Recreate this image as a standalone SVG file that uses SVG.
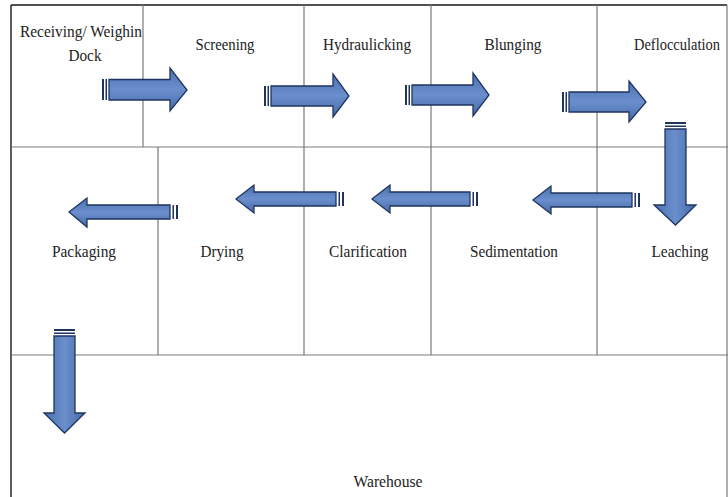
<svg xmlns="http://www.w3.org/2000/svg" width="728" height="497" viewBox="0 0 728 497">
<defs>
<linearGradient id="gh" x1="0" y1="0" x2="0" y2="1">
<stop offset="0" stop-color="#4a70b0"/><stop offset="0.5" stop-color="#6b8fcc"/><stop offset="1" stop-color="#4668a8"/>
</linearGradient>
<linearGradient id="gv" x1="0" y1="0" x2="1" y2="0">
<stop offset="0" stop-color="#4a70b0"/><stop offset="0.5" stop-color="#6b8fcc"/><stop offset="1" stop-color="#4668a8"/>
</linearGradient>
<style>
.grid{stroke:#7a7a7a;stroke-width:1.2;fill:none}
.outer{stroke:#1a1a1a;stroke-width:1.4;fill:none}
.ah{fill:url(#gh);stroke:#1f3560;stroke-width:1.3;stroke-linejoin:miter}
.av{fill:url(#gv);stroke:#1f3560;stroke-width:1.3;stroke-linejoin:miter}
.st{fill:#1f3560}
text{font-family:"Liberation Serif","Times New Roman",serif;font-size:17.5px;fill:#222}
</style>
</defs>
<g id="grid">
<path class="outer" d="M11,5 H727 M11,5 V497"/>
<path class="grid" d="M11,147 H728 M11,355 H728 M727,5 V497"/>
<path class="grid" d="M143,5 V147 M304,5 V147 M431,5 V147 M597,5 V147"/>
<path class="grid" d="M158,147 V355 M304,147 V355 M431,147 V355 M597,147 V355"/>
</g>
<g id="receiving"><text x="81" y="37" text-anchor="middle" textLength="122" lengthAdjust="spacingAndGlyphs">Receiving/ Weighin</text><text x="85" y="61" text-anchor="middle" textLength="33" lengthAdjust="spacingAndGlyphs">Dock</text></g>
<g id="screening"><text x="225" y="50" text-anchor="middle" textLength="59" lengthAdjust="spacingAndGlyphs">Screening</text></g>
<g id="hydraulicking"><text x="367" y="50" text-anchor="middle" textLength="88" lengthAdjust="spacingAndGlyphs">Hydraulicking</text></g>
<g id="blunging"><text x="513" y="50" text-anchor="middle" textLength="57" lengthAdjust="spacingAndGlyphs">Blunging</text></g>
<g id="deflocculation"><text x="677" y="50" text-anchor="middle" style="font-size:16px" textLength="86" lengthAdjust="spacingAndGlyphs">Deflocculation</text></g>
<g id="packaging"><text x="84" y="257" text-anchor="middle" textLength="64" lengthAdjust="spacingAndGlyphs">Packaging</text></g>
<g id="drying"><text x="222" y="257" text-anchor="middle" textLength="43" lengthAdjust="spacingAndGlyphs">Drying</text></g>
<g id="clarification"><text x="368" y="257" text-anchor="middle" textLength="78" lengthAdjust="spacingAndGlyphs">Clarification</text></g>
<g id="sedimentation"><text x="514" y="257" text-anchor="middle" textLength="88" lengthAdjust="spacingAndGlyphs">Sedimentation</text></g>
<g id="leaching"><text x="680" y="257" text-anchor="middle" textLength="57" lengthAdjust="spacingAndGlyphs">Leaching</text></g>
<g id="warehouse"><text x="388" y="487" text-anchor="middle" textLength="69" lengthAdjust="spacingAndGlyphs">Warehouse</text></g>
<g id="connectors">
<g><rect class="st" x="102" y="79" width="2" height="21"/><rect class="st" x="105.5" y="79" width="1.5" height="21"/><path class="ah" d="M109,79.5 H170 V68 L187,90 L170,111 V100 H109 Z"/></g>
<g><rect class="st" x="264" y="86" width="2" height="20"/><rect class="st" x="267.5" y="86" width="1.5" height="20"/><path class="ah" d="M271,86 H333 V74 L349,96 L333,117 V106 H271 Z"/></g>
<g><rect class="st" x="405" y="85" width="2" height="20"/><rect class="st" x="408.5" y="85" width="1.5" height="20"/><path class="ah" d="M412,85 H473 V73 L489,95 L473,116 V105 H412 Z"/></g>
<g><rect class="st" x="562" y="92" width="2" height="20"/><rect class="st" x="565.5" y="92" width="1.5" height="20"/><path class="ah" d="M569,92 H629 V81 L646,102 L629,122 V112 H569 Z"/></g>
<g><rect class="st" x="665" y="122" width="21" height="2"/><rect class="st" x="665" y="125.5" width="21" height="1.5"/><path class="av" d="M665,129 H686 V205 H696 L675.5,225 L654,205 H665 Z"/></g>
<g><rect class="st" x="638" y="193" width="2" height="14"/><rect class="st" x="634.5" y="193" width="1.5" height="14"/><path class="ah" d="M632,193 H551 V186 L533,200 L551,214 V207 H632 Z"/></g>
<g><rect class="st" x="476" y="192" width="2" height="14"/><rect class="st" x="472.5" y="192" width="1.5" height="14"/><path class="ah" d="M470,192 H390 V185 L372,199 L390,213 V206 H470 Z"/></g>
<g><rect class="st" x="342" y="192" width="2" height="14"/><rect class="st" x="338.5" y="192" width="1.5" height="14"/><path class="ah" d="M336,192 H254 V185 L236,199 L254,213 V206 H336 Z"/></g>
<g><rect class="st" x="176" y="205" width="2" height="14"/><rect class="st" x="172.5" y="205" width="1.5" height="14"/><path class="ah" d="M170,205 H87 V198 L69,212 L87,227 V219 H170 Z"/></g>
<g><rect class="st" x="54" y="329" width="21" height="2"/><rect class="st" x="54" y="332.5" width="21" height="1.5"/><path class="av" d="M54,336 H75 V413 H85 L64.5,433 L44,413 H54 Z"/></g>
</g>
</svg>
